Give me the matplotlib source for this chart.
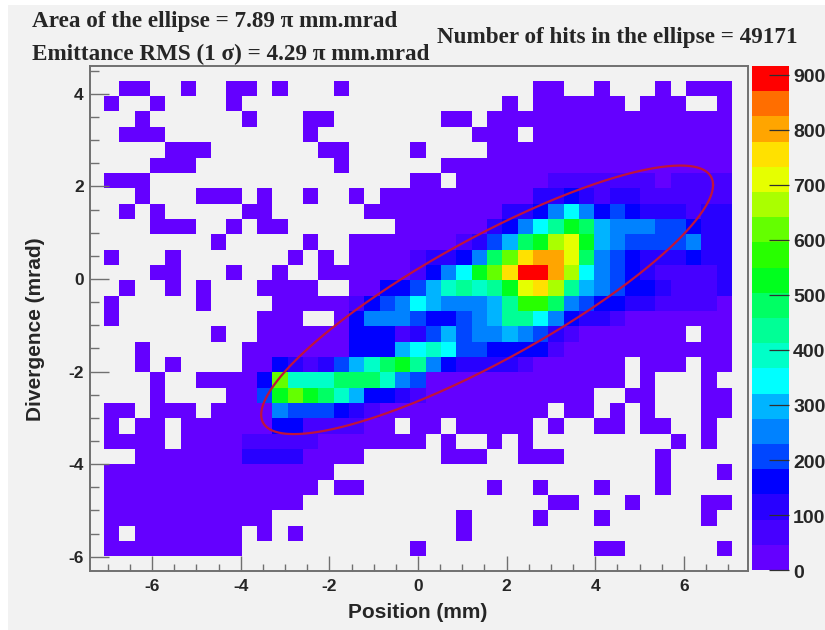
"""Beam emittance map: divergence vs position with the RMS ellipse on top."""
import numpy as np
import matplotlib
matplotlib.use("Agg")
import matplotlib.pyplot as plt
from matplotlib.colors import BoundaryNorm, ListedColormap
from matplotlib.patches import Rectangle

W, H = 825, 630

# ROOT-style palette, one colour per z band, low to high
BAND_COLORS = [
    "#6400ff", "#4600ff", "#2800ff", "#0000ff", "#0046ff",
    "#0082ff", "#00b4ff", "#00ffff", "#00ffc8", "#00ff96",
    "#00ff64", "#00ff1e", "#28ff00", "#64ff00", "#aaff00",
    "#e6ff00", "#ffe100", "#ffa500", "#ff6e00", "#ff0000",
]
Z_MAX = 916
CBAR_TICKS = [0, 100, 200, 300, 400, 500, 600, 700, 800, 900]

# Histogram cells, top row first.
# "." = empty bin, otherwise the colour band (base 20: 0-9 then a-j).
CELL_ROWS = [
    ".00..0..00 .0...0.... ........00 ..0...0.000",
    "0..0....0. .......... ......0.00 0000.000..0",
    "..0......0 ...00..... ..00.00000 00000000000",
    ".000...... ...0...... ....000.00 00000000000",
    "....000... ....00.... 0....00000 00000000000",
    "...000.... .....0.... ..00000000 00000000000",
    "000....... .......... 00.0000001 11111101111",
    "..0...000. 0..0..0.00 0000000022 32122111111",
    ".0.0.....0 0......000 0000002235 75343222122",
    "...000..0. 00.......0 0000023579 ba655544322",
    ".......0.. ...0..0000 0001246abe fb654444522",
    "0...0..... ..0.0.0000 12235adghh fa543222322",
    "...00...0. .0..000000 1357bdgjjh e7543211112",
    ".0..0.0... 0000..0033 468989bfge 96543321112",
    "0.....0... .000001345 7655569cca 54332211110",
    "0......... 000..03555 4334569975 32210000000",
    ".......0.. 0000003331 2464556542 10000000.00",
    "..0......0 0000003336 7874433331 00000000000",
    "..0.0....0 03212468ab 9532222100 0000.000.00",
    "...0..0000 3d888aaa85 4000000000 0000.0...0.",
    "...0....00 4bdba86332 1000000000 00..00...00",
    "00.000.000 0544432100 000000000. 00.0.0...00",
    "0.00.00000 033111100. 00.00000.0 ..00.00..0.",
    "0000.00001 1111000000 0.0..0.0.. .......0.0.",
    "..00000002 2220000... ..000..000 ......0....",
    "0000000000 00000..... .......... ......0...0",
    "0000000000 0000.00... .....0..0. ..0...0....",
    "0000000000 000....... .........0 0...0....00",
    "0000000000 0......... ...0....0. ..0......0.",
    "0.0000000. 0.0....... ...0...... ...........",
    "000000000. .......... 0......... ..00......0",
]

# histogram extent and frame limits
X_EDGES = (-7.09, 7.09)
Y_EDGES = (4.28, -5.99)
X_LIM = (-7.404, 7.449)
Y_LIM = (-6.307, 4.60)
X_TICKS = [-6, -4, -2, 0, 2, 4, 6]
Y_TICKS = [-6, -4, -2, 0, 2, 4]

# ellipse: centre, half extents, phase between x and y
ELL_CENTER = (1.56, -0.45)
ELL_X, ELL_Y = 5.10, 2.90
ELL_PHASE = np.radians(31.2)

TITLE_AREA = "Area of the ellipse = 7.89 π mm.mrad"
TITLE_RMS = "Emittance RMS (1 σ) = 4.29 π mm.mrad"
TITLE_HITS = "Number of hits in the ellipse = 49171"

SANS = ["Liberation Sans", "DejaVu Sans"]
SERIF = ["Liberation Serif", "DejaVu Serif"]
BG = "#f2f2f2"
INK = "#262626"
FRAME = "#707070"


def px_axes(fig, left, right, top, bottom):
    return fig.add_axes([left / W, 1 - bottom / H,
                         (right - left) / W, (bottom - top) / H])


def cell_counts():
    band_width = Z_MAX / len(BAND_COLORS)
    rows = []
    for row in CELL_ROWS:
        row = row.replace(" ", "")
        assert len(row) == 41, row
        rows.append([np.nan if c == "." else (int(c, 30) + 0.5) * band_width
                     for c in row])
    return np.array(rows)


def main():
    plt.rcParams["axes.unicode_minus"] = False

    fig = plt.figure(figsize=(W / 100, H / 100), dpi=100, facecolor="white")
    fig.patches.append(Rectangle((8 / W, 0), 1, 1 - 5 / H, facecolor=BG,
                                 edgecolor="none", transform=fig.transFigure,
                                 figure=fig, zorder=-5))

    ax = px_axes(fig, 90, 748, 66, 571)
    ax.set_facecolor(BG)

    z = cell_counts()
    x_edges = np.linspace(X_EDGES[0], X_EDGES[1], z.shape[1] + 1)
    y_edges = np.linspace(Y_EDGES[0], Y_EDGES[1], z.shape[0] + 1)
    levels = np.linspace(0, Z_MAX, len(BAND_COLORS) + 1)
    cmap = ListedColormap(BAND_COLORS)
    norm = BoundaryNorm(levels, cmap.N)
    mesh = ax.pcolormesh(x_edges, y_edges, np.ma.masked_invalid(z),
                         cmap=cmap, norm=norm)

    t = np.linspace(0, 2 * np.pi, 400)
    ax.plot(ELL_CENTER[0] + ELL_X * np.cos(t),
            ELL_CENTER[1] + ELL_Y * np.cos(t - ELL_PHASE),
            color="#c0143c", lw=1.6)

    ax.set_xlim(*X_LIM)
    ax.set_ylim(*Y_LIM)
    ax.set_xticks(X_TICKS)
    ax.set_yticks(Y_TICKS)
    ax.set_xticks(np.arange(-7, 7.5, 0.5), minor=True)
    ax.set_yticks(np.arange(-6, 4.75, 0.5), minor=True)
    ax.tick_params(axis="x", which="major", direction="in", length=10.8,
                   width=1.0, color=FRAME, pad=5.5)
    ax.tick_params(axis="x", which="minor", direction="in", length=5,
                   width=1.0, color=FRAME)
    ax.tick_params(axis="y", which="major", direction="in", length=13.7,
                   width=1.0, color=FRAME, pad=4.5)
    ax.tick_params(axis="y", which="minor", direction="in", length=6.5,
                   width=1.0, color=FRAME)
    for label in ax.get_xticklabels() + ax.get_yticklabels():
        label.set_family(SANS)
        label.set_fontweight("bold")
        label.set_fontsize(12.5)
        label.set_color(INK)
    for spine in ax.spines.values():
        spine.set_color(FRAME)
        spine.set_linewidth(1.4)

    fig.text(418 / W, 1 - 612 / H, "Position (mm)", family=SANS, weight="bold",
             fontsize=15, color=INK, ha="center", va="center")
    fig.text(36 / W, 1 - 329 / H, "Divergence (mrad)", family=SANS,
             weight="bold", fontsize=15, color=INK, rotation=90,
             ha="center", va="center")

    cax = px_axes(fig, 752, 789, 66, 570)
    cbar = fig.colorbar(mesh, cax=cax, ticks=CBAR_TICKS, spacing="proportional",
                        drawedges=False)
    cbar.outline.set_visible(False)
    cax.yaxis.set_ticks_position("right")
    cax.tick_params(axis="y", which="major", direction="in", length=14.4,
                    width=0.9, color="#303030")
    cax.minorticks_off()
    # labels sit a little below their ticks in the original
    cax.set_yticklabels([])
    for value in CBAR_TICKS:
        cax.annotate(str(value), (1, value), xycoords=cax.get_yaxis_transform(),
                     xytext=(3, -2.2), textcoords="offset points", family=SANS,
                     weight="bold", fontsize=14, color=INK, ha="left",
                     va="center", annotation_clip=False)

    fig.text(32 / W, 1 - 27 / H, TITLE_AREA, family=SERIF, weight="bold",
             fontsize=16.7, color=INK, ha="left", va="baseline")
    fig.text(32 / W, 1 - 60 / H, TITLE_RMS, family=SERIF, weight="bold",
             fontsize=16.7, color=INK, ha="left", va="baseline")
    fig.text(437 / W, 1 - 43 / H, TITLE_HITS, family=SERIF, weight="bold",
             fontsize=16.7, color=INK, ha="left", va="baseline")

    fig.savefig("out.png", dpi=100)


if __name__ == "__main__":
    main()
